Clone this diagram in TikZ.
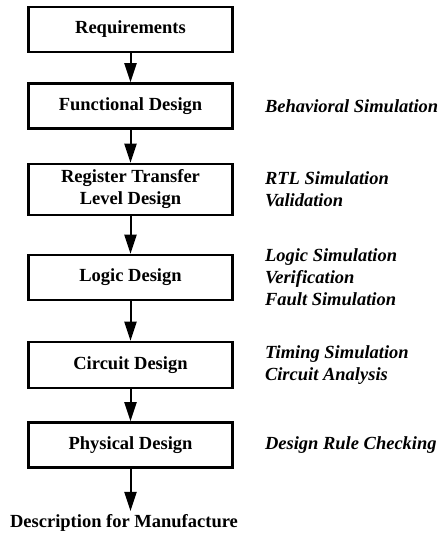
\documentclass[tikz,border=0pt]{standalone}
\usepackage{fontspec}
\setmainfont{Liberation Serif}
\usetikzlibrary{positioning}
\usetikzlibrary{arrows.meta}

\begin{document}
\begin{tikzpicture}[x=1pt, y=-1pt,
    stage/.style={draw, line width=2.6pt, rectangle, minimum width=204pt, minimum height=45pt, align=center, font=\fontsize{18.5}{22}\selectfont\bfseries},
    sim/.style={inner sep=0pt, align=left, font=\fontsize{18.5}{22}\selectfont\bfseries\itshape},
    flow/.style={line width=2pt, -{Triangle[length=19pt, width=12pt]}}]
            \useasboundingbox (0,0) rectangle (441,534);
            % Design stages
            \node[stage] (req) at (130.5,29.5) {Requirements};
            \node[stage] (func) at (130.5,106) {Functional Design};
            \node[stage, minimum height=51pt] (rtl) at (130.5,189.5) {Register Transfer\\Level Design};
            \node[stage] (logic) at (130.5,277.5) {Logic Design};
            \node[stage, minimum height=46pt] (circ) at (130.5,365) {Circuit Design};
            \node[stage] (phys) at (130.5,445) {Physical Design};
            \node[font=\fontsize{18.5}{22}\selectfont\bfseries] (desc) at (124,523) {Description for Manufacture};
            
            % Simulation and checking steps
            \node[sim, right=31pt of func] {Behavioral Simulation};
            \node[sim, right=31pt of rtl] {RTL Simulation\\Validation};
            \node[sim, right=31pt of logic] {Logic Simulation\\Verification\\Fault Simulation};
            \node[sim, right=31pt of circ] {Timing Simulation\\Circuit Analysis};
            \node[sim, right=31pt of phys] {Design Rule Checking};
            
            \draw[flow] (req) -- (func);
            \draw[flow] (func) -- (rtl);
            \draw[flow] (rtl) -- (logic);
            \draw[flow] (logic) -- (circ);
            \draw[flow] (circ) -- (phys);
            \draw[flow] (phys) -- (phys |- desc.north);
        \end{tikzpicture}
\end{document}
